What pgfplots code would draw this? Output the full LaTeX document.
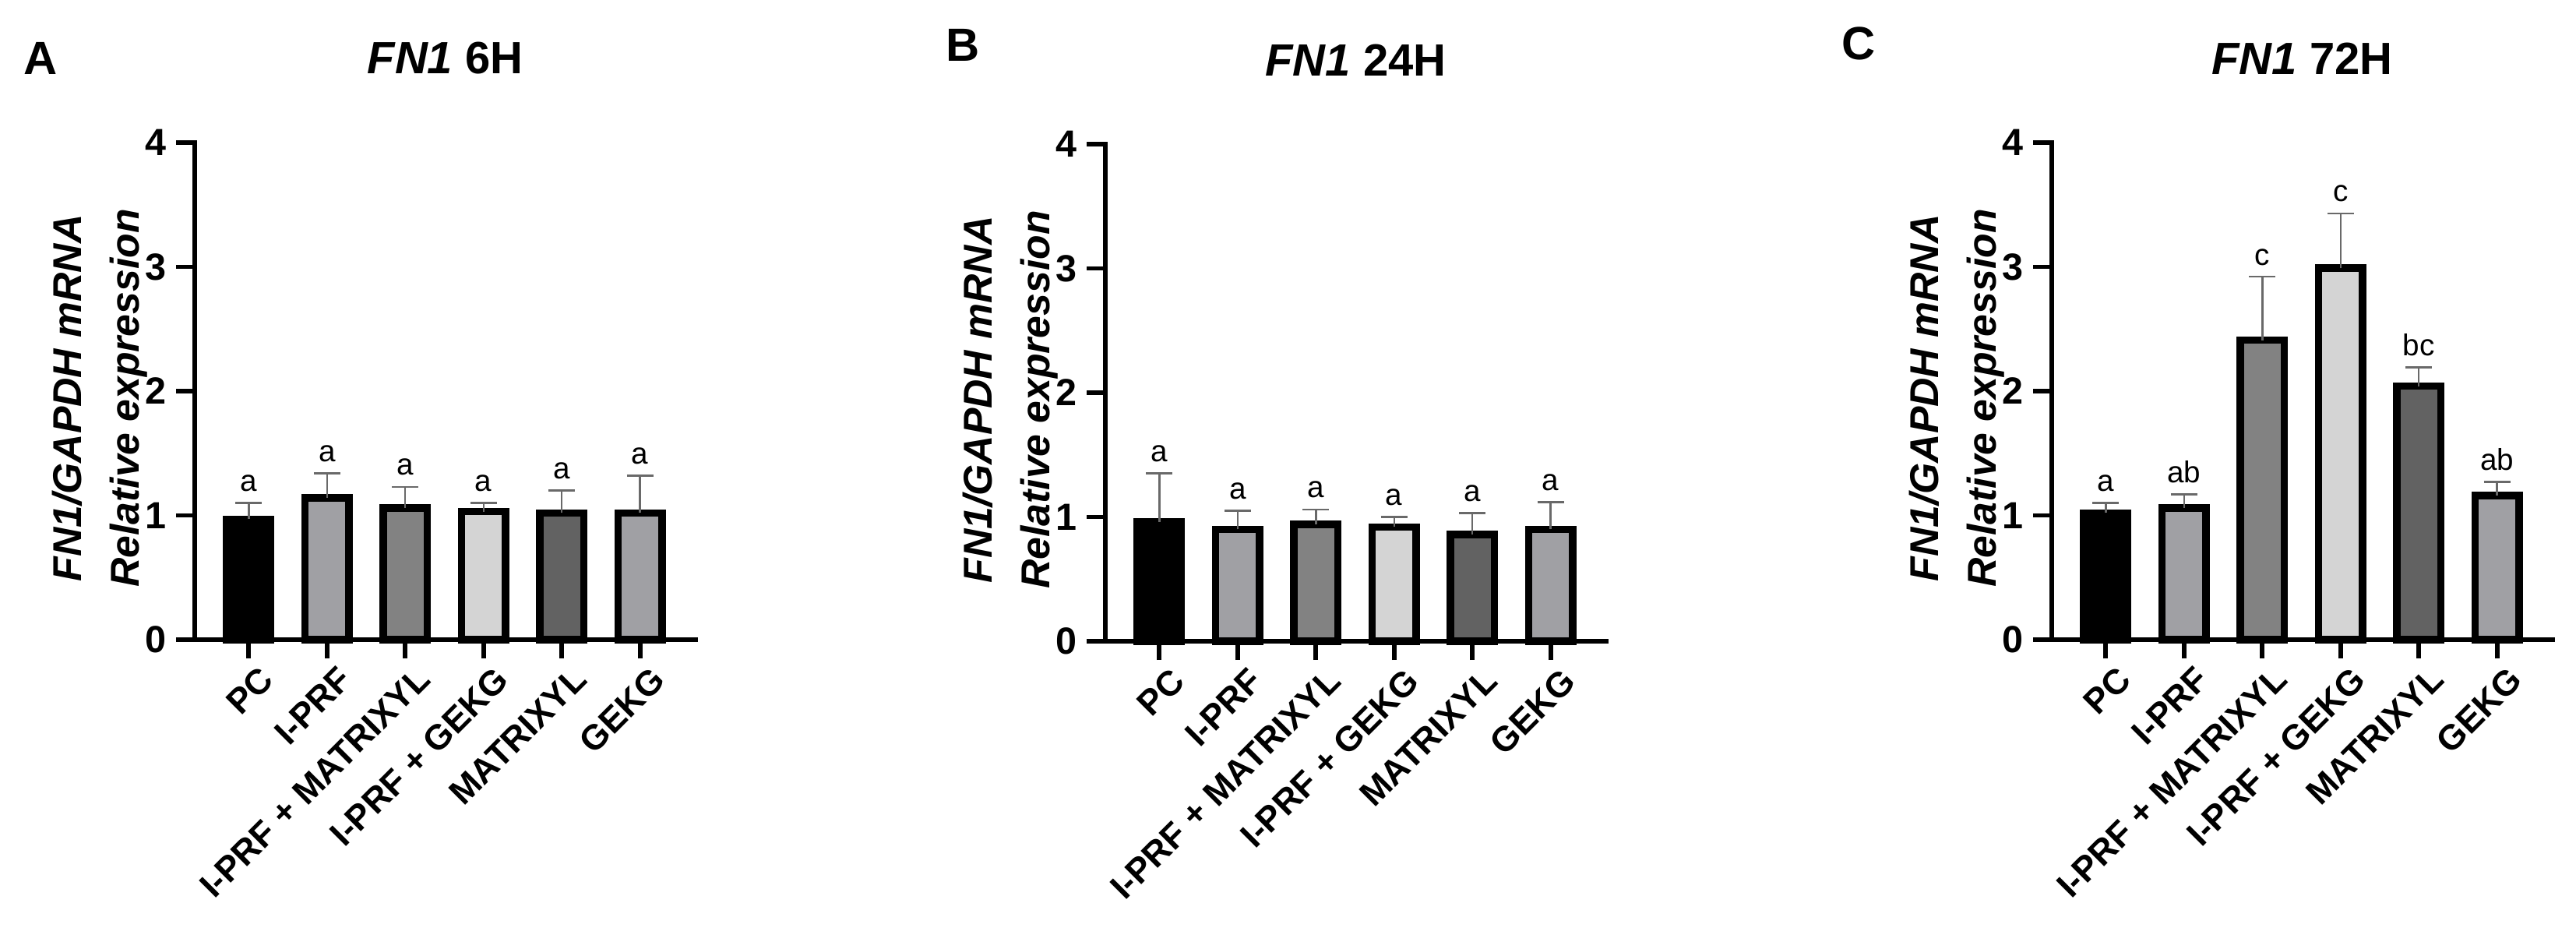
\documentclass[border=0pt]{standalone}
\usepackage{fontspec}
\setmainfont{Liberation Sans}
\usepackage{pgfplots}
\pgfplotsset{compat=1.18}

\definecolor{cpc}{RGB}{0,0,0}
\definecolor{ciprf}{RGB}{160,160,164}
\definecolor{cim}{RGB}{130,130,130}
\definecolor{cig}{RGB}{212,212,212}
\definecolor{cmat}{RGB}{98,98,98}
\definecolor{cgekg}{RGB}{160,160,164}
\definecolor{errgray}{RGB}{105,105,105}

\pgfplotsset{
  fnpanel/.style={
    scale only axis, width=6.43cm, height=6.38cm,
    anchor=south west, clip=false,
    xmin=-0.69, xmax=5.71, ymin=0, ymax=4,
    axis x line=bottom, axis y line=left,
    axis line style={-, line width=1.7pt, line cap=rect},
    xtick={0,...,5}, ytick={0,...,4},
    xticklabels={PC, I-PRF, I-PRF + MATRIXYL, I-PRF + GEKG, MATRIXYL, GEKG},
    tick align=outside, major tick length=0.24cm,
    tick style={line width=1.7pt, black},
    /pgf/number format/assume math mode=true,
    yticklabel style={font=\bfseries\fontsize{13.8}{14}\selectfont},
    xticklabel style={font=\bfseries\fontsize{12.8}{13}\selectfont,
      rotate=45, anchor=north east, inner sep=1pt, xshift=2pt, yshift=-3pt},
    title style={font=\bfseries\fontsize{16.5}{18}\selectfont,
      anchor=center, yshift=0.87cm},
    ylabel={\textit{FN1/GAPDH mRNA}\\\textit{Relative expression}},
    ylabel style={at={(axis description cs:-0.19,0.486)}, anchor=center,
      align=center, font=\bfseries\itshape\fontsize{14.7}{21}\selectfont},
  },
  fnbar/.style={
    ybar, bar width=0.56, bar shift=0pt, draw=black, line width=2.7pt,
    fill=#1,
    error bars/.cd, y dir=plus, y explicit,
    error bar style={line width=0.7pt, draw=errgray},
    error mark options={rotate=90, line width=0.7pt, draw=errgray, mark size=0.17cm},
  },
}
\tikzset{sig/.style={anchor=south, inner sep=0pt, yshift=4pt,
    font=\fontsize{11}{12}\selectfont}}

\begin{document}
\begin{tikzpicture}
\useasboundingbox (0,0) rectangle (33.07,12.18);

\node[font=\bfseries\fontsize{17}{17}\selectfont] at (0.52,11.43) {A};
\node[font=\bfseries\fontsize{17}{17}\selectfont] at (12.36,11.60) {B};
\node[font=\bfseries\fontsize{17}{17}\selectfont] at (23.86,11.62) {C};

% A: 6 h
\begin{axis}[fnpanel, at={(2.50cm,3.97cm)}, title={\textit{FN1} 6H}]
  \addplot[fnbar=cpc]   coordinates {(0,0.97) +- (0,0.13)};
  \addplot[fnbar=ciprf] coordinates {(1,1.14) +- (0,0.20)};
  \addplot[fnbar=cim]   coordinates {(2,1.06) +- (0,0.17)};
  \addplot[fnbar=cig]   coordinates {(3,1.03) +- (0,0.07)};
  \addplot[fnbar=cmat]  coordinates {(4,1.02) +- (0,0.18)};
  \addplot[fnbar=cgekg] coordinates {(5,1.02) +- (0,0.30)};
  \node[sig] at (axis cs:0,1.10) {a};
  \node[sig] at (axis cs:1,1.34) {a};
  \node[sig] at (axis cs:2,1.23) {a};
  \node[sig] at (axis cs:3,1.10) {a};
  \node[sig] at (axis cs:4,1.20) {a};
  \node[sig] at (axis cs:5,1.32) {a};
\end{axis}

% B: 24 h
\begin{axis}[fnpanel, at={(14.19cm,3.95cm)}, title={\textit{FN1} 24H}]
  \addplot[fnbar=cpc]   coordinates {(0,0.96) +- (0,0.39)};
  \addplot[fnbar=ciprf] coordinates {(1,0.90) +- (0,0.15)};
  \addplot[fnbar=cim]   coordinates {(2,0.94) +- (0,0.12)};
  \addplot[fnbar=cig]   coordinates {(3,0.92) +- (0,0.08)};
  \addplot[fnbar=cmat]  coordinates {(4,0.86) +- (0,0.17)};
  \addplot[fnbar=cgekg] coordinates {(5,0.90) +- (0,0.22)};
  \node[sig] at (axis cs:0,1.35) {a};
  \node[sig] at (axis cs:1,1.05) {a};
  \node[sig] at (axis cs:2,1.06) {a};
  \node[sig] at (axis cs:3,1.00) {a};
  \node[sig] at (axis cs:4,1.03) {a};
  \node[sig] at (axis cs:5,1.12) {a};
\end{axis}

% C: 72 h
\begin{axis}[fnpanel, at={(26.34cm,3.97cm)}, title={\textit{FN1} 72H}]
  \addplot[fnbar=cpc]   coordinates {(0,1.02) +- (0,0.08)};
  \addplot[fnbar=ciprf] coordinates {(1,1.06) +- (0,0.11)};
  \addplot[fnbar=cim]   coordinates {(2,2.41) +- (0,0.51)};
  \addplot[fnbar=cig]   coordinates {(3,2.99) +- (0,0.44)};
  \addplot[fnbar=cmat]  coordinates {(4,2.04) +- (0,0.15)};
  \addplot[fnbar=cgekg] coordinates {(5,1.16) +- (0,0.11)};
  \node[sig] at (axis cs:0,1.10) {a};
  \node[sig] at (axis cs:1,1.17) {ab};
  \node[sig] at (axis cs:2,2.92) {c};
  \node[sig] at (axis cs:3,3.43) {c};
  \node[sig] at (axis cs:4,2.19) {bc};
  \node[sig] at (axis cs:5,1.27) {ab};
\end{axis}
\end{tikzpicture}
\end{document}
